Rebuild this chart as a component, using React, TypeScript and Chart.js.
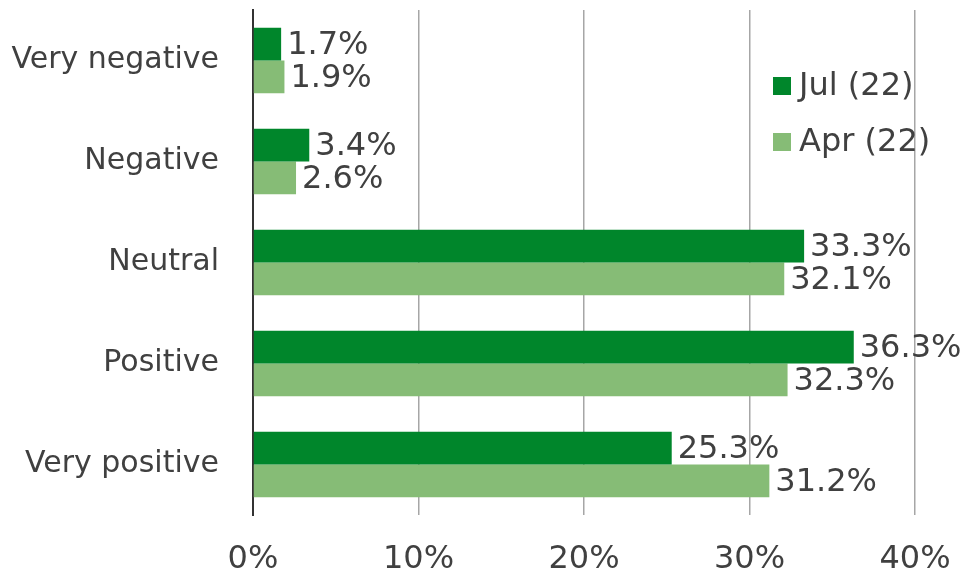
import React, { useEffect, useRef } from "react";
import { Chart, registerables } from "chart.js";

Chart.register(...registerables);

const categories = ["Very negative", "Negative", "Neutral", "Positive", "Very positive"];
const julValues = [1.7, 3.4, 33.3, 36.3, 25.3];
const aprValues = [1.9, 2.6, 32.1, 32.3, 31.2];
const seriesLabels = ["Jul (22)", "Apr (22)"];
const seriesColors = ["#00862B", "#86BC76"];
const xMax = 40;
const xStep = 10;

const FONT = "'DejaVu Sans', Verdana, sans-serif";
const TEXT = "#404040";

const valueLabels = {
  id: "valueLabels",
  afterDatasetsDraw(chart: any) {
    const ctx = chart.ctx;
    ctx.save();
    ctx.font = `32px ${FONT}`;
    ctx.fillStyle = TEXT;
    ctx.textAlign = "left";
    ctx.textBaseline = "middle";
    chart.data.datasets.forEach((ds: any, di: number) => {
      const meta = chart.getDatasetMeta(di);
      meta.data.forEach((el: any, i: number) => {
        ctx.fillText(ds.data[i].toFixed(1) + "%", el.x + 6, el.y + 2);
      });
    });
    ctx.restore();
  },
};

const customLegend = {
  id: "customLegend",
  afterDraw(chart: any) {
    const ctx = chart.ctx;
    const { left, top } = chart.chartArea;
    ctx.save();
    ctx.font = `32px ${FONT}`;
    ctx.textAlign = "left";
    ctx.textBaseline = "middle";
    chart.data.datasets.forEach((ds: any, i: number) => {
      const cy = top + 76 + i * 56;
      const sx = left + 520;
      ctx.fillStyle = ds.backgroundColor;
      ctx.fillRect(sx, cy - 9, 18, 18);
      ctx.fillStyle = TEXT;
      ctx.fillText(ds.label, sx + 26, cy + 1);
    });
    ctx.restore();
  },
};

export default function App() {
  const ref = useRef<HTMLCanvasElement>(null);
  useEffect(() => {
    if (!ref.current) return;
    const chart = new Chart(ref.current, {
      type: "bar",
      data: {
        labels: categories,
        datasets: [
          {
            label: seriesLabels[0],
            data: julValues,
            backgroundColor: seriesColors[0],
            categoryPercentage: 0.65,
            barPercentage: 1.0,
          },
          {
            label: seriesLabels[1],
            data: aprValues,
            backgroundColor: seriesColors[1],
            categoryPercentage: 0.65,
            barPercentage: 1.0,
          },
        ],
      },
      options: {
        indexAxis: "y",
        animation: false,
        responsive: true,
        maintainAspectRatio: false,
        layout: { padding: { top: 10, right: 47, bottom: 6, left: 0 } },
        plugins: {
          legend: { display: false },
          tooltip: { enabled: false },
        },
        scales: {
          x: {
            min: 0,
            max: xMax,
            ticks: {
              stepSize: xStep,
              callback: (v: any) => v + "%",
              font: { family: FONT, size: 32 },
              color: TEXT,
              padding: 25,
              maxRotation: 0,
            },
            grid: { color: "#a6a6a6", lineWidth: 1.5, drawTicks: false },
            border: { display: false },
            afterFit: (s: any) => {
              s.height = 61;
              s.paddingLeft = 0;
              s.paddingRight = 0;
            },
          },
          y: {
            grid: { display: false, drawTicks: false },
            border: { display: true, color: "#333333", width: 2 },
            ticks: {
              font: { family: FONT, size: 30 },
              color: TEXT,
              padding: 34,
            },
            afterFit: (s: any) => {
              s.width = 253;
              s.paddingTop = 0;
              s.paddingBottom = 0;
            },
          },
        },
      },
      plugins: [valueLabels, customLegend],
    });
    return () => chart.destroy();
  }, []);
  return (
    <div style={{ position: "fixed", left: 0, top: 0, width: 962, height: 582, background: "#fff" }}>
      <canvas ref={ref} />
    </div>
  );
}
